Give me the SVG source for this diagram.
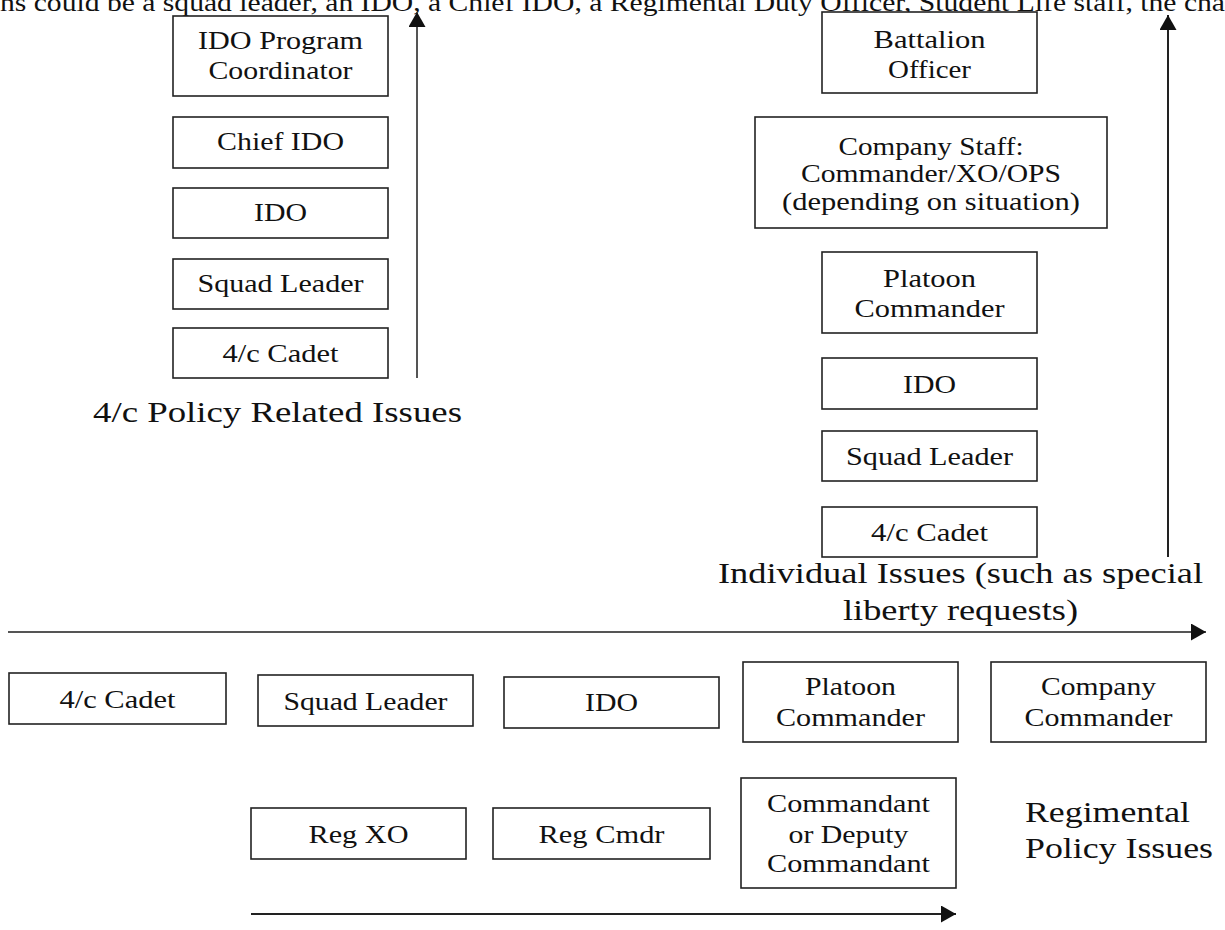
<svg xmlns="http://www.w3.org/2000/svg" width="1225" height="930" viewBox="0 0 1225 930">
<style>
.box{fill:#fff;stroke:#222;stroke-width:1.6}
.t{font-family:"Liberation Serif","Times New Roman",serif;font-size:25px;fill:#111;text-anchor:middle}
.lbl{font-family:"Liberation Serif","Times New Roman",serif;font-size:29px;fill:#111}
.top{font-family:"Liberation Serif","Times New Roman",serif;font-size:25px;fill:#111}
.arr{stroke:#222;stroke-width:2;fill:none;marker-end:url(#ah)}
.arrg{stroke:#555;stroke-width:2;fill:none;marker-end:url(#ah)}
</style>
<defs>
<marker id="ah" markerUnits="userSpaceOnUse" markerWidth="16" markerHeight="18" refX="15" refY="8.5" orient="auto">
<path d="M0,0 L15,8.5 L0,17 z" fill="#111"/>
</marker>
</defs>
<rect width="1225" height="930" fill="#fff"/>
<text class="top" x="0" y="11" textLength="1225" lengthAdjust="spacingAndGlyphs">ns could be a squad leader, an IDO, a Chief IDO, a Regimental Duty Officer, Student Life staff, the cha</text>

<g id="l-idopc"><rect class="box" x="173" y="16" width="215" height="80"/>
<text class="t" x="280.5" y="49" textLength="165" lengthAdjust="spacingAndGlyphs">IDO Program</text>
<text class="t" x="280.5" y="79" textLength="144" lengthAdjust="spacingAndGlyphs">Coordinator</text></g>
<g id="l-chief"><rect class="box" x="173" y="117" width="215" height="51"/>
<text class="t" x="280.5" y="150" textLength="127" lengthAdjust="spacingAndGlyphs">Chief IDO</text></g>
<g id="l-ido"><rect class="box" x="173" y="188" width="215" height="50"/>
<text class="t" x="280.5" y="221" textLength="53" lengthAdjust="spacingAndGlyphs">IDO</text></g>
<g id="l-squad"><rect class="box" x="173" y="259" width="215" height="50"/>
<text class="t" x="280.5" y="292" textLength="166" lengthAdjust="spacingAndGlyphs">Squad Leader</text></g>
<g id="l-cadet"><rect class="box" x="173" y="328" width="215" height="50"/>
<text class="t" x="280.5" y="362" textLength="116" lengthAdjust="spacingAndGlyphs">4/c Cadet</text></g>
<text class="lbl" x="93" y="422" textLength="369" lengthAdjust="spacingAndGlyphs">4/c Policy Related Issues</text>

<g id="r-batt"><rect class="box" x="822" y="12" width="215" height="81"/>
<text class="t" x="929.5" y="48" textLength="112" lengthAdjust="spacingAndGlyphs">Battalion</text>
<text class="t" x="929.5" y="78" textLength="83" lengthAdjust="spacingAndGlyphs">Officer</text></g>
<g id="r-staff"><rect class="box" x="755" y="117" width="352" height="111"/>
<text class="t" x="931" y="155" textLength="185" lengthAdjust="spacingAndGlyphs">Company Staff:</text>
<text class="t" x="931" y="182" textLength="260" lengthAdjust="spacingAndGlyphs">Commander/XO/OPS</text>
<text class="t" x="931" y="210" textLength="298" lengthAdjust="spacingAndGlyphs">(depending on situation)</text></g>
<g id="r-plt"><rect class="box" x="822" y="252" width="215" height="81"/>
<text class="t" x="929.5" y="287" textLength="93" lengthAdjust="spacingAndGlyphs">Platoon</text>
<text class="t" x="929.5" y="317" textLength="150" lengthAdjust="spacingAndGlyphs">Commander</text></g>
<g id="r-ido"><rect class="box" x="822" y="358" width="215" height="51"/>
<text class="t" x="929.5" y="393" textLength="53" lengthAdjust="spacingAndGlyphs">IDO</text></g>
<g id="r-squad"><rect class="box" x="822" y="431" width="215" height="50"/>
<text class="t" x="929.5" y="465" textLength="167" lengthAdjust="spacingAndGlyphs">Squad Leader</text></g>
<g id="r-cadet"><rect class="box" x="822" y="507" width="215" height="50"/>
<text class="t" x="929.5" y="541" textLength="117" lengthAdjust="spacingAndGlyphs">4/c Cadet</text></g>
<text class="lbl" x="718" y="583" textLength="485" lengthAdjust="spacingAndGlyphs">Individual Issues (such as special</text>
<text class="lbl" x="843" y="620" textLength="235" lengthAdjust="spacingAndGlyphs">liberty requests)</text>

<g id="b-cadet"><rect class="box" x="9" y="673" width="217" height="51"/>
<text class="t" x="117.5" y="708" textLength="116" lengthAdjust="spacingAndGlyphs">4/c Cadet</text></g>
<g id="b-squad"><rect class="box" x="258" y="675" width="215" height="51"/>
<text class="t" x="365.5" y="710" textLength="164" lengthAdjust="spacingAndGlyphs">Squad Leader</text></g>
<g id="b-ido"><rect class="box" x="504" y="677" width="215" height="51"/>
<text class="t" x="611.5" y="711" textLength="53" lengthAdjust="spacingAndGlyphs">IDO</text></g>
<g id="b-plt"><rect class="box" x="743" y="662" width="215" height="80"/>
<text class="t" x="850.5" y="695" textLength="91" lengthAdjust="spacingAndGlyphs">Platoon</text>
<text class="t" x="850.5" y="726" textLength="149" lengthAdjust="spacingAndGlyphs">Commander</text></g>
<g id="b-coy"><rect class="box" x="991" y="662" width="215" height="80"/>
<text class="t" x="1098.5" y="695" textLength="115" lengthAdjust="spacingAndGlyphs">Company</text>
<text class="t" x="1098.5" y="726" textLength="148" lengthAdjust="spacingAndGlyphs">Commander</text></g>

<g id="b-regxo"><rect class="box" x="251" y="808" width="215" height="51"/>
<text class="t" x="358.5" y="843" textLength="100" lengthAdjust="spacingAndGlyphs">Reg XO</text></g>
<g id="b-regcmdr"><rect class="box" x="493" y="808" width="217" height="51"/>
<text class="t" x="601.5" y="843" textLength="126" lengthAdjust="spacingAndGlyphs">Reg Cmdr</text></g>
<g id="b-comdt"><rect class="box" x="741" y="778" width="215" height="110"/>
<text class="t" x="848.5" y="812" textLength="163" lengthAdjust="spacingAndGlyphs">Commandant</text>
<text class="t" x="848.5" y="843" textLength="120" lengthAdjust="spacingAndGlyphs">or Deputy</text>
<text class="t" x="848.5" y="872" textLength="163" lengthAdjust="spacingAndGlyphs">Commandant</text></g>
<text class="lbl" x="1025" y="822" textLength="165" lengthAdjust="spacingAndGlyphs">Regimental</text>
<text class="lbl" x="1025" y="858" textLength="188" lengthAdjust="spacingAndGlyphs">Policy Issues</text>

<g id="connectors">
<line class="arrg" x1="417" y1="378" x2="417" y2="12"/>
<line class="arr" x1="1168" y1="557" x2="1168" y2="15"/>
<line class="arrg" x1="8" y1="632" x2="1206" y2="632"/>
<line class="arr" x1="251" y1="914" x2="956" y2="914"/>
</g>
</svg>
